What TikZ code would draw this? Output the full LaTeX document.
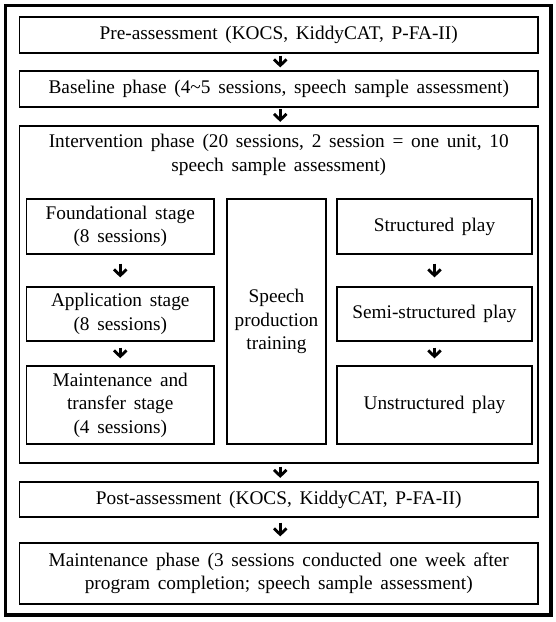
\documentclass[tikz,border=0pt]{standalone}
\usepackage{fontspec}
\setmainfont{Liberation Serif}
\usetikzlibrary{arrows.meta}
\newcommand{\myfont}{\fontsize{19.3}{23.5}\selectfont\spaceskip=0.4em plus 0.1em\relax}
\tikzset{
  box/.style={draw, line width=1.2pt, rectangle, inner sep=0pt, align=center, font=\myfont},
  arr/.style={line width=3pt, -{Straight Barb[length=6pt,width=12.5pt,line width=2.8pt]}},
}
\newcommand{\tld}{{\char"007E}}
\begin{document}
\begin{tikzpicture}[x=1pt,y=-1pt]
\useasboundingbox (0,0) rectangle (556,622);
% outer frame
\draw[line width=2.7pt] (5.3,5.3) rectangle (551.3,615.3);
\draw[line width=4pt] (551.3,5.3) -- (551.3,615.3) -- (5.3,615.3);
% main boxes
\node[box, minimum width=518.5pt, minimum height=36pt] (pre) at (278.75,35) {Pre-assessment (KOCS, KiddyCAT, P-FA-II)};
\node[box, minimum width=518.5pt, minimum height=36pt] (base) at (278.75,89) {Baseline phase (4\tld5 sessions, speech sample assessment)};
\node[box, minimum width=518.5pt, minimum height=337pt] (inter) at (278.75,294.5) {};
\node[font=\myfont, align=center, inner sep=0pt] (intertxt) at (278.75,155) {Intervention phase (20 sessions, 2 session = one unit, 10\\speech sample assessment)};
\node[box, minimum width=187.5pt, minimum height=55pt] (found) at (120.25,226.5) {Foundational stage\\(8 sessions)};
\node[box, minimum width=187.5pt, minimum height=54pt] (appl) at (120.25,314) {Application stage\\(8 sessions)};
\node[box, minimum width=187.5pt, minimum height=78pt] (mts) at (120.25,405) {Maintenance and\\transfer stage\\(4 sessions)};
\node[box, minimum width=99pt, minimum height=245pt] (spt) at (276.5,321.5) {Speech\\production\\training};
\node[box, minimum width=195pt, minimum height=55pt] (strp) at (434.5,226.5) {Structured play};
\node[box, minimum width=195pt, minimum height=54pt] (semi) at (434.5,314) {Semi-structured play};
\node[box, minimum width=195pt, minimum height=78pt] (unst) at (434.5,405) {Unstructured play};
\node[box, minimum width=518.5pt, minimum height=35pt] (post) at (278.75,499.5) {Post-assessment (KOCS, KiddyCAT, P-FA-II)};
\node[box, minimum width=518.5pt, minimum height=61pt] (mphase) at (278.75,573.5) {Maintenance phase (3 sessions conducted one week after\\program completion; speech sample assessment)};
% arrows
\draw[arr, shorten <=2pt, shorten >=3pt] ([xshift=1.5pt]pre.south) -- ([xshift=1.5pt]base.north);
\draw[arr, shorten <=1.5pt, shorten >=3.5pt] ([xshift=1.5pt]base.south) -- ([xshift=1.5pt]inter.north);
\draw[arr, shorten <=9pt, shorten >=9pt] (found.south) -- (appl.north);
\draw[arr, shorten <=6pt, shorten >=7pt] (appl.south) -- (mts.north);
\draw[arr, shorten <=9pt, shorten >=9pt] (strp.south) -- (semi.north);
\draw[arr, shorten <=6pt, shorten >=7pt] (semi.south) -- (unst.north);
\draw[arr, shorten <=3pt, shorten >=3.5pt] ([xshift=1.5pt]inter.south) -- ([xshift=1.5pt]post.north);
\draw[arr, shorten <=5pt, shorten >=6pt] ([xshift=1.5pt]post.south) -- ([xshift=1.5pt]mphase.north);
\end{tikzpicture}
\end{document}
